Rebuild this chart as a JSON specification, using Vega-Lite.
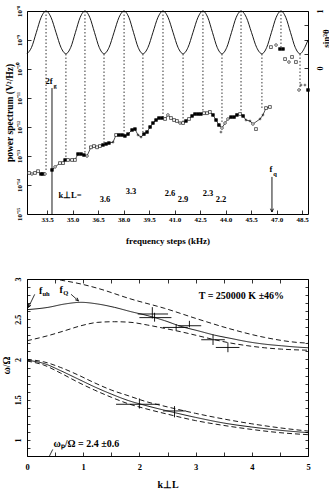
{
 "$schema": "https://vega.github.io/schema/vega-lite/v6.json",
 "padding": {"left": 0, "top": 4, "right": 0, "bottom": 0},
 "background": "white",
 "bounds": "flush",
 "spacing": 65,
 "config": {
  "view": {"stroke": "black", "strokeWidth": 1},
  "axis": {"domain": false, "grid": false, "tickColor": "black", "tickSize": 4, "offset": -4, "tickWidth": 0.8,
   "labelFont": "Liberation Serif", "labelFontWeight": "bold", "labelFontSize": 8, "labelColor": "black", "labelFlush": false,
   "titleFont": "Liberation Serif", "titleFontWeight": "bold", "titleFontSize": 10, "titleColor": "black"},
  "text": {"font": "Liberation Serif", "fontWeight": "bold", "fontSize": 9, "color": "black"}
 },
 "vconcat": [
  {
   "width": 281, "height": 203,
   "resolve": {"scale": {"y": "independent"}, "axis": {"x": "independent"}},
   "layer": [
    {
     "data": {"values": [
      {"f":33.44,"top":1e-8,"bot":2.8e-14},{"f":34.61,"top":3.3e-10,"bot":7.3e-14},{"f":35.73,"top":1e-8,"bot":1.08e-13},{"f":36.85,"top":3.3e-10,"bot":2.6e-13},{"f":38.03,"top":1e-8,"bot":4.5e-13},{"f":39.14,"top":3.3e-10,"bot":6.7e-13},{"f":40.32,"top":1e-8,"bot":2.2e-12},{"f":41.50,"top":3.3e-10,"bot":1.37e-12},{"f":42.67,"top":1e-8,"bot":3.3e-12},{"f":43.79,"top":3.3e-10,"bot":1.27e-12},{"f":44.91,"top":1e-8,"bot":3.0e-12},{"f":46.14,"top":3.3e-10,"bot":4.5e-12},{"f":47.26,"top":1e-8,"bot":5.7e-10},{"f":48.38,"top":3.3e-10,"bot":1.89e-11}
     ]},
     "mark": {"type": "rule", "strokeDash": [1.5, 2], "strokeWidth": 0.8, "color": "black"},
     "encoding": {
      "x": {"field": "f", "type": "quantitative", "scale": {"domain": [32.32, 48.85], "nice": false, "zero": false},
       "axis": {"orient": "bottom", "values": [33.5,35,36.5,38,39.5,41,42.5,44,45.5,47,48.5], "format": ".1f", "labelFontSize": 7, "labelPadding": 1.5,
        "title": "frequency steps (kHz)", "titleFontSize": 9, "titleY": 33, "titleBaseline": "alphabetic"}},
      "y": {"field": "top", "type": "quantitative", "scale": {"type": "log", "domain": [1e-15, 1e-8], "nice": false},
       "axis": {"orient": "left", "values": [1e-15,1e-14,1e-13,1e-12,1e-11,1e-10,1e-9,1e-8],
        "labelExpr": "['10⁻¹⁵','10⁻¹⁴','10⁻¹³','10⁻¹²','10⁻¹¹','10⁻¹⁰','10⁻⁹','10⁻⁸'][round(log(datum.value)/LN10)+15]",
        "labelAngle": -90, "labelAlign": "center", "labelBaseline": "bottom", "labelPadding": 5, "labelFontSize": 7,
        "title": "power spectrum (V²/Hz)", "titleAngle": 270, "titleX": -22, "titleY": 101.5, "titleAlign": "center", "titleBaseline": "middle", "titleFontSize": 9.5}},
      "y2": {"field": "bot"}
     }
    },
    {
     "data": {"name": "spec", "values": [
      {"f":32.44,"p":2.6e-14,"m":"sq","c":0},{"f":32.61,"p":2.4e-14,"m":"circ","c":0},{"f":32.79,"p":2.6e-14,"m":"sq","c":0},{"f":32.97,"p":3.0e-14,"m":"sq","c":0},{"f":33.14,"p":2.4e-14,"m":"fsq","c":0},{"f":33.26,"p":2.4e-14,"m":"fsq","c":0},{"f":33.38,"p":2.4e-14,"m":"circ","c":0},
      {"f":33.79,"p":3.3e-14,"m":"fsq","c":1},{"f":33.97,"p":4.2e-14,"m":"circ","c":1},{"f":34.26,"p":5.7e-14,"m":"sq","c":1},{"f":34.44,"p":5.7e-14,"m":"sq","c":1},{"f":34.56,"p":7.3e-14,"m":"fsq","c":1},{"f":34.73,"p":7.3e-14,"m":"sq","c":1},{"f":34.97,"p":7.3e-14,"m":"sq","c":1},{"f":35.14,"p":7.3e-14,"m":"sq","c":1},
      {"f":35.32,"p":1.17e-13,"m":"fsq","c":1},{"f":35.50,"p":1.17e-13,"m":"fsq","c":1},{"f":35.67,"p":1.08e-13,"m":"fsq","c":1},{"f":35.85,"p":1.0e-13,"m":"circ","c":1},{"f":36.08,"p":2.0e-13,"m":"sq","c":1},{"f":36.26,"p":2.2e-13,"m":"sq","c":1},{"f":36.44,"p":2.0e-13,"m":"sq","c":1},{"f":36.61,"p":2.2e-13,"m":"sq","c":1},
      {"f":36.79,"p":2.4e-13,"m":"fsq","c":1},{"f":36.97,"p":2.6e-13,"m":"fsq","c":1},{"f":37.14,"p":2.8e-13,"m":"fsq","c":1},{"f":37.38,"p":3.0e-13,"m":"plus","c":1},{"f":37.56,"p":5.3e-13,"m":"sq","c":1},{"f":37.73,"p":5.3e-13,"m":"fsq","c":1},{"f":37.91,"p":5.3e-13,"m":"fsq","c":1},{"f":38.08,"p":4.9e-13,"m":"fsq","c":1},
      {"f":38.26,"p":5.7e-13,"m":"fsq","c":1},{"f":38.50,"p":7.9e-13,"m":"fsq","c":1},{"f":38.67,"p":8.5e-13,"m":"fsq","c":1},{"f":38.85,"p":5.3e-13,"m":"plus","c":1},{"f":39.03,"p":4.5e-13,"m":"plus","c":1},{"f":39.20,"p":5.7e-13,"m":"fsq","c":1},{"f":39.38,"p":6.7e-13,"m":"fsq","c":1},{"f":39.56,"p":1.0e-12,"m":"fsq","c":1},
      {"f":39.73,"p":1.37e-12,"m":"fsq","c":1},{"f":39.91,"p":1.74e-12,"m":"fsq","c":1},{"f":40.08,"p":2.04e-12,"m":"fsq","c":1},{"f":40.26,"p":2.04e-12,"m":"fsq","c":1},{"f":40.44,"p":1.89e-12,"m":"sq","c":1},{"f":40.61,"p":2.6e-12,"m":"circ","c":1},{"f":40.79,"p":2.04e-12,"m":"sq","c":1},{"f":40.97,"p":1.74e-12,"m":"sq","c":1},
      {"f":41.14,"p":1.61e-12,"m":"sq","c":1},{"f":41.32,"p":1.37e-12,"m":"circ","c":1},{"f":41.50,"p":1.37e-12,"m":"sq","c":1},{"f":41.67,"p":1.61e-12,"m":"fsq","c":1},{"f":41.85,"p":1.89e-12,"m":"sq","c":1},{"f":42.03,"p":2.4e-12,"m":"fsq","c":1},{"f":42.20,"p":2.8e-12,"m":"fsq","c":1},{"f":42.38,"p":2.8e-12,"m":"fsq","c":1},
      {"f":42.55,"p":2.8e-12,"m":"fsq","c":1},{"f":42.73,"p":3.0e-12,"m":"sq","c":1},{"f":42.91,"p":3.0e-12,"m":"sq","c":1},{"f":43.08,"p":3.3e-12,"m":"sq","c":1},{"f":43.26,"p":2.6e-12,"m":"fsq","c":1},{"f":43.44,"p":1.74e-12,"m":"fsq","c":1},{"f":43.61,"p":1.17e-12,"m":"fsq","c":1},{"f":43.79,"p":9.2e-13,"m":"circ","c":1},
      {"f":43.97,"p":1.37e-12,"m":"circ","c":1},{"f":44.14,"p":1.89e-12,"m":"circ","c":1},{"f":44.32,"p":2.2e-12,"m":"fsq","c":1},{"f":44.50,"p":2.2e-12,"m":"fsq","c":1},{"f":44.67,"p":2.6e-12,"m":"fsq","c":1},{"f":44.85,"p":2.8e-12,"m":"sq","c":1},{"f":45.03,"p":2.4e-12,"m":"fsq","c":1},{"f":45.20,"p":1.74e-12,"m":"plus","c":1},
      {"f":45.44,"p":1.61e-12,"m":"plus","c":1},{"f":45.61,"p":1.27e-12,"m":"circ","c":1},{"f":46.03,"p":1.89e-12,"m":"plus","c":1},{"f":46.20,"p":2.6e-12,"m":"plus","c":1},{"f":46.38,"p":4.5e-12,"m":"sq","c":1},{"f":46.61,"p":4.9e-12,"m":"sq","c":1},
      {"f":43.73,"p":6.7e-13,"m":"plus","c":0},{"f":45.79,"p":8.5e-13,"m":"sq","c":0},
      {"f":46.67,"p":5.7e-10,"m":"sq","c":0},{"f":46.97,"p":6.7e-10,"m":"circ","c":0},{"f":47.20,"p":4.9e-10,"m":"fsq","c":0},{"f":47.38,"p":4.9e-10,"m":"fsq","c":0},{"f":47.50,"p":2.2e-10,"m":"sq","c":0},{"f":47.73,"p":1.74e-10,"m":"circ","c":0},{"f":47.91,"p":2.6e-10,"m":"sq","c":0},{"f":48.14,"p":1.74e-10,"m":"sq","c":0},
      {"f":48.32,"p":1.89e-11,"m":"circ","c":0},{"f":48.44,"p":2.8e-11,"m":"plus","c":0},{"f":48.67,"p":2.8e-11,"m":"plus","c":0},{"f":48.85,"p":1.89e-11,"m":"fsq","c":0}
     ]},
     "transform": [{"filter": "datum.c == 1"}],
     "mark": {"type": "line", "color": "black", "strokeWidth": 0.7},
     "encoding": {
      "x": {"field": "f", "type": "quantitative", "scale": {"domain": [32.32, 48.85], "nice": false, "zero": false}, "axis": null},
      "y": {"field": "p", "type": "quantitative", "scale": {"type": "log", "domain": [1e-15, 1e-8], "nice": false}, "axis": null}
     }
    },
    {
     "data": {"name": "spec"},
     "mark": {"type": "point", "stroke": "black", "strokeWidth": 0.6, "opacity": 1},
     "encoding": {
      "x": {"field": "f", "type": "quantitative", "scale": {"domain": [32.32, 48.85], "nice": false, "zero": false}, "axis": null},
      "y": {"field": "p", "type": "quantitative", "scale": {"type": "log", "domain": [1e-15, 1e-8], "nice": false}, "axis": null},
      "shape": {"field": "m", "type": "nominal", "scale": {"domain": ["sq","fsq","plus","circ"], "range": ["square","square","M-1,0H1M0,-1V1","circle"]}, "legend": null},
      "fill": {"field": "m", "type": "nominal", "scale": {"domain": ["sq","fsq","plus","circ"], "range": ["white","black","transparent","white"]}, "legend": null},
      "size": {"field": "m", "type": "nominal", "scale": {"domain": ["sq","fsq","plus","circ"], "range": [8,7,16,7]}, "legend": null}
     }
    },
    {
     "data": {"values": [{"f":33.79,"top":2.2e-11,"bot":1e-15},{"f":46.73,"top":1.9e-14,"bot":1.17e-15}]},
     "mark": {"type": "rule", "color": "black", "strokeWidth": 0.9},
     "encoding": {
      "x": {"field": "f", "type": "quantitative", "scale": {"domain": [32.32, 48.85], "nice": false, "zero": false}, "axis": null},
      "y": {"field": "top", "type": "quantitative", "scale": {"type": "log", "domain": [1e-15, 1e-8], "nice": false}, "axis": null},
      "y2": {"field": "bot"}
     }
    },
    {
     "data": {"values": [{"f":46.73,"p":1.17e-15}]},
     "mark": {"type": "point", "shape": "M-1,-2.2L0,0L1,-2.2", "size": 9, "stroke": "black", "strokeWidth": 0.9, "filled": false, "opacity": 1},
     "encoding": {
      "x": {"field": "f", "type": "quantitative", "scale": {"domain": [32.32, 48.85], "nice": false, "zero": false}, "axis": null},
      "y": {"field": "p", "type": "quantitative", "scale": {"type": "log", "domain": [1e-15, 1e-8], "nice": false}, "axis": null}
     }
    },
    {
     "data": {"values": [
      {"f":33.61,"p":3.86e-11,"t":"2f"},{"f":46.67,"p":3.56e-14,"t":"f"},{"f":34.85,"p":4.6e-15,"t":"k⊥L="},
      {"f":36.91,"p":3.3e-15,"t":"3.6"},{"f":38.44,"p":6.2e-15,"t":"3.3"},{"f":40.73,"p":5.3e-15,"t":"2.6"},{"f":41.50,"p":3.3e-15,"t":"2.9"},{"f":42.97,"p":5.3e-15,"t":"2.3"},{"f":43.73,"p":3.3e-15,"t":"2.2"}
     ]},
     "mark": {"type": "text", "fontSize": 8.5, "baseline": "middle"},
     "encoding": {
      "x": {"field": "f", "type": "quantitative", "scale": {"domain": [32.32, 48.85], "nice": false, "zero": false}, "axis": null},
      "y": {"field": "p", "type": "quantitative", "scale": {"type": "log", "domain": [1e-15, 1e-8], "nice": false}, "axis": null},
      "text": {"field": "t"}
     }
    },
    {
     "data": {"values": [{"f":33.97,"p":2.6e-11,"t":"g"},{"f":46.91,"p":2.4e-14,"t":"q"}]},
     "mark": {"type": "text", "fontSize": 6.5, "baseline": "middle"},
     "encoding": {
      "x": {"field": "f", "type": "quantitative", "scale": {"domain": [32.32, 48.85], "nice": false, "zero": false}, "axis": null},
      "y": {"field": "p", "type": "quantitative", "scale": {"type": "log", "domain": [1e-15, 1e-8], "nice": false}, "axis": null},
      "text": {"field": "t"}
     }
    },
    {
     "data": {"values": [
      {"f":32.32,"s":0.25},{"f":32.585,"s":0.36},{"f":32.87,"s":0.625},{"f":33.155,"s":0.89},{"f":33.44,"s":1},{"f":33.73,"s":0.89},{"f":34.025,"s":0.625},{"f":34.32,"s":0.36},
      {"f":34.61,"s":0.25},{"f":34.89,"s":0.36},{"f":35.17,"s":0.625},{"f":35.45,"s":0.89},{"f":35.73,"s":1},{"f":36.01,"s":0.89},{"f":36.29,"s":0.625},{"f":36.57,"s":0.36},
      {"f":36.85,"s":0.25},{"f":37.145,"s":0.36},{"f":37.44,"s":0.625},{"f":37.735,"s":0.89},{"f":38.03,"s":1},{"f":38.31,"s":0.89},{"f":38.585,"s":0.625},{"f":38.86,"s":0.36},
      {"f":39.14,"s":0.25},{"f":39.435,"s":0.36},{"f":39.73,"s":0.625},{"f":40.025,"s":0.89},{"f":40.32,"s":1},{"f":40.615,"s":0.89},{"f":40.91,"s":0.625},{"f":41.205,"s":0.36},
      {"f":41.50,"s":0.25},{"f":41.79,"s":0.36},{"f":42.085,"s":0.625},{"f":42.38,"s":0.89},{"f":42.67,"s":1},{"f":42.95,"s":0.89},{"f":43.23,"s":0.625},{"f":43.51,"s":0.36},
      {"f":43.79,"s":0.25},{"f":44.07,"s":0.36},{"f":44.35,"s":0.625},{"f":44.63,"s":0.89},{"f":44.91,"s":1},{"f":45.22,"s":0.89},{"f":45.525,"s":0.625},{"f":45.83,"s":0.36},
      {"f":46.14,"s":0.25},{"f":46.42,"s":0.36},{"f":46.70,"s":0.625},{"f":46.98,"s":0.89},{"f":47.26,"s":1},{"f":47.54,"s":0.89},{"f":47.82,"s":0.625},{"f":48.10,"s":0.36},
      {"f":48.38,"s":0.25},{"f":48.66,"s":0.36},{"f":48.85,"s":0.49}
     ]},
     "mark": {"type": "line", "color": "black", "strokeWidth": 0.9, "interpolate": "monotone"},
     "encoding": {
      "x": {"field": "f", "type": "quantitative", "scale": {"domain": [32.32, 48.85], "nice": false, "zero": false}, "axis": null},
      "y": {"field": "s", "type": "quantitative", "scale": {"domain": [-2.5614, 1], "nice": false, "zero": false},
       "axis": {"orient": "right", "values": [0, 0.25, 0.5, 0.75, 1],
        "labelExpr": "datum.value == 1 ? '1' : datum.value == 0 ? '0' : ''",
        "labelAngle": -90, "labelAlign": "center", "labelBaseline": "top", "labelPadding": 8, "labelFontSize": 8,
        "title": "sin²θ", "titleAngle": 270, "titleX": 21, "titleY": 27, "titleAlign": "center", "titleBaseline": "middle", "titleFontSize": 9}}
     }
    }
   ]
  },
  {
   "width": 281, "height": 177,
   "resolve": {"axis": {"x": "independent", "y": "independent"}},
   "layer": [
    {
     "data": {"name": "curves", "values": [
      {"k":0,"w":2.619,"id":"us","d":"solid"},{"k":0.37,"w":2.647,"id":"us","d":"solid"},{"k":0.67,"w":2.689,"id":"us","d":"solid"},{"k":0.96,"w":2.71,"id":"us","d":"solid"},{"k":1.26,"w":2.689,"id":"us","d":"solid"},{"k":1.56,"w":2.647,"id":"us","d":"solid"},{"k":1.85,"w":2.594,"id":"us","d":"solid"},{"k":2.15,"w":2.544,"id":"us","d":"solid"},{"k":2.45,"w":2.482,"id":"us","d":"solid"},{"k":2.74,"w":2.411,"id":"us","d":"solid"},{"k":3.04,"w":2.357,"id":"us","d":"solid"},{"k":3.34,"w":2.302,"id":"us","d":"solid"},{"k":3.63,"w":2.261,"id":"us","d":"solid"},{"k":3.93,"w":2.22,"id":"us","d":"solid"},{"k":4.23,"w":2.19,"id":"us","d":"solid"},{"k":4.53,"w":2.17,"id":"us","d":"solid"},{"k":4.82,"w":2.153,"id":"us","d":"solid"},{"k":5,"w":2.146,"id":"us","d":"solid"},
      {"k":0.45,"w":3.0,"id":"uh","d":"dash"},{"k":0.61,"w":2.984,"id":"uh","d":"dash"},{"k":0.96,"w":2.938,"id":"uh","d":"dash"},{"k":1.26,"w":2.884,"id":"uh","d":"dash"},{"k":1.85,"w":2.751,"id":"uh","d":"dash"},{"k":2.45,"w":2.635,"id":"uh","d":"dash"},{"k":3.04,"w":2.502,"id":"uh","d":"dash"},{"k":3.63,"w":2.377,"id":"uh","d":"dash"},{"k":4.23,"w":2.274,"id":"uh","d":"dash"},{"k":4.82,"w":2.211,"id":"uh","d":"dash"},{"k":5,"w":2.203,"id":"uh","d":"dash"},
      {"k":0,"w":2.233,"id":"ul","d":"dash"},{"k":0.37,"w":2.295,"id":"ul","d":"dash"},{"k":0.67,"w":2.357,"id":"ul","d":"dash"},{"k":0.96,"w":2.419,"id":"ul","d":"dash"},{"k":1.26,"w":2.461,"id":"ul","d":"dash"},{"k":1.56,"w":2.469,"id":"ul","d":"dash"},{"k":1.85,"w":2.461,"id":"ul","d":"dash"},{"k":2.15,"w":2.427,"id":"ul","d":"dash"},{"k":2.45,"w":2.386,"id":"ul","d":"dash"},{"k":2.74,"w":2.344,"id":"ul","d":"dash"},{"k":3.04,"w":2.295,"id":"ul","d":"dash"},{"k":3.34,"w":2.245,"id":"ul","d":"dash"},{"k":3.63,"w":2.203,"id":"ul","d":"dash"},{"k":3.93,"w":2.17,"id":"ul","d":"dash"},{"k":4.23,"w":2.145,"id":"ul","d":"dash"},{"k":4.53,"w":2.128,"id":"ul","d":"dash"},{"k":5,"w":2.115,"id":"ul","d":"dash"},
      {"k":0,"w":1.99,"id":"ls","d":"solid"},{"k":0.3,"w":1.95,"id":"ls","d":"solid"},{"k":0.6,"w":1.86,"id":"ls","d":"solid"},{"k":0.9,"w":1.76,"id":"ls","d":"solid"},{"k":1.2,"w":1.66,"id":"ls","d":"solid"},{"k":1.5,"w":1.57,"id":"ls","d":"solid"},{"k":1.8,"w":1.49,"id":"ls","d":"solid"},{"k":2.1,"w":1.43,"id":"ls","d":"solid"},{"k":2.5,"w":1.36,"id":"ls","d":"solid"},{"k":3.0,"w":1.28,"id":"ls","d":"solid"},{"k":3.5,"w":1.21,"id":"ls","d":"solid"},{"k":4.0,"w":1.16,"id":"ls","d":"solid"},{"k":4.5,"w":1.12,"id":"ls","d":"solid"},{"k":5.0,"w":1.09,"id":"ls","d":"solid"},
      {"k":0,"w":2.0,"id":"lh","d":"dash"},{"k":0.3,"w":1.97,"id":"lh","d":"dash"},{"k":0.6,"w":1.9,"id":"lh","d":"dash"},{"k":0.9,"w":1.81,"id":"lh","d":"dash"},{"k":1.2,"w":1.71,"id":"lh","d":"dash"},{"k":1.5,"w":1.62,"id":"lh","d":"dash"},{"k":1.8,"w":1.55,"id":"lh","d":"dash"},{"k":2.1,"w":1.48,"id":"lh","d":"dash"},{"k":2.5,"w":1.41,"id":"lh","d":"dash"},{"k":3.0,"w":1.33,"id":"lh","d":"dash"},{"k":3.5,"w":1.26,"id":"lh","d":"dash"},{"k":4.0,"w":1.2,"id":"lh","d":"dash"},{"k":4.5,"w":1.15,"id":"lh","d":"dash"},{"k":5.0,"w":1.11,"id":"lh","d":"dash"},
      {"k":0,"w":1.98,"id":"ll","d":"dash"},{"k":0.3,"w":1.93,"id":"ll","d":"dash"},{"k":0.6,"w":1.83,"id":"ll","d":"dash"},{"k":0.9,"w":1.72,"id":"ll","d":"dash"},{"k":1.2,"w":1.62,"id":"ll","d":"dash"},{"k":1.5,"w":1.53,"id":"ll","d":"dash"},{"k":1.8,"w":1.45,"id":"ll","d":"dash"},{"k":2.1,"w":1.39,"id":"ll","d":"dash"},{"k":2.5,"w":1.32,"id":"ll","d":"dash"},{"k":3.0,"w":1.24,"id":"ll","d":"dash"},{"k":3.5,"w":1.18,"id":"ll","d":"dash"},{"k":4.0,"w":1.13,"id":"ll","d":"dash"},{"k":4.5,"w":1.09,"id":"ll","d":"dash"},{"k":5.0,"w":1.065,"id":"ll","d":"dash"}
     ]},
     "mark": {"type": "line", "color": "black", "strokeWidth": 0.9, "interpolate": "monotone", "clip": true},
     "encoding": {
      "x": {"field": "k", "type": "quantitative", "scale": {"domain": [0, 5], "nice": false, "zero": false},
       "axis": {"orient": "bottom", "values": [0,0.5,1,1.5,2,2.5,3,3.5,4,4.5,5], "labelExpr": "datum.value % 1 == 0 ? format(datum.value, 'd') : ''", "labelPadding": 6, "labelFontSize": 8.5,
        "title": "k⊥L", "titleFontSize": 10, "titleY": 35, "titleBaseline": "alphabetic"}},
      "y": {"field": "w", "type": "quantitative", "scale": {"domain": [0.8, 3], "nice": false, "zero": false},
       "axis": {"orient": "left", "values": [0.8,0.9,1,1.1,1.2,1.3,1.4,1.5,1.6,1.7,1.8,1.9,2,2.1,2.2,2.3,2.4,2.5,2.6,2.7,2.8,2.9,3],
        "labelExpr": "indexof([1,1.5,2,2.5,3], datum.value) >= 0 ? format(datum.value, '') : ''", "tickSize": 3, "offset": -3,
        "labelAngle": -90, "labelAlign": "center", "labelBaseline": "bottom", "labelPadding": 5, "labelFontSize": 8,
        "title": "ω/Ω", "titleAngle": 270, "titleX": -24, "titleY": 86, "titleAlign": "center", "titleBaseline": "middle", "titleFontSize": 10}},
      "detail": {"field": "id", "type": "nominal"},
      "strokeDash": {"field": "d", "type": "nominal", "scale": {"domain": ["solid","dash"], "range": [[1,0],[5,3]]}, "legend": null}
     }
    },
    {
     "data": {"name": "curves"},
     "mark": {"type": "point", "opacity": 0},
     "encoding": {
      "x": {"field": "k", "type": "quantitative", "scale": {"domain": [0, 5], "nice": false, "zero": false},
       "axis": {"orient": "top", "values": [0,0.5,1,1.5,2,2.5,3,3.5,4,4.5,5], "labels": false, "title": null}},
      "y": {"field": "w", "type": "quantitative", "scale": {"domain": [0.8, 3], "nice": false, "zero": false},
       "axis": {"orient": "right", "values": [0.8,0.9,1,1.1,1.2,1.3,1.4,1.5,1.6,1.7,1.8,1.9,2,2.1,2.2,2.3,2.4,2.5,2.6,2.7,2.8,2.9,3], "tickSize": 3, "offset": -3, "labels": false, "title": null}}
     }
    },
    {
     "data": {"name": "errs", "values": [
      {"k":2.23,"w":2.565,"klo":1.97,"khi":2.51,"wlo":2.51,"whi":2.65},
      {"k":2.27,"w":2.52,"klo":2.0,"khi":2.57,"wlo":2.47,"whi":2.58},
      {"k":2.654,"w":2.398,"klo":2.42,"khi":2.86,"wlo":2.36,"whi":2.44},
      {"k":2.89,"w":2.419,"klo":2.69,"khi":3.1,"wlo":2.40,"whi":2.48},
      {"k":3.31,"w":2.245,"klo":3.1,"khi":3.52,"wlo":2.18,"whi":2.31},
      {"k":3.575,"w":2.149,"klo":3.36,"khi":3.78,"wlo":2.09,"whi":2.21},
      {"k":2.0,"w":1.443,"klo":1.585,"khi":2.36,"wlo":1.39,"whi":1.515},
      {"k":2.625,"w":1.36,"klo":2.42,"khi":2.83,"wlo":1.28,"whi":1.42}
     ]},
     "mark": {"type": "rule", "color": "black", "strokeWidth": 0.9},
     "encoding": {
      "x": {"field": "klo", "type": "quantitative", "scale": {"domain": [0, 5], "nice": false, "zero": false}, "axis": null},
      "x2": {"field": "khi"},
      "y": {"field": "w", "type": "quantitative", "scale": {"domain": [0.8, 3], "nice": false, "zero": false}, "axis": null}
     }
    },
    {
     "data": {"name": "errs"},
     "mark": {"type": "rule", "color": "black", "strokeWidth": 0.9},
     "encoding": {
      "x": {"field": "k", "type": "quantitative", "scale": {"domain": [0, 5], "nice": false, "zero": false}, "axis": null},
      "y": {"field": "wlo", "type": "quantitative", "scale": {"domain": [0.8, 3], "nice": false, "zero": false}, "axis": null},
      "y2": {"field": "whi"}
     }
    },
    {
     "data": {"values": [
      {"k":0.137,"w":2.809,"k2":0.025,"w2":2.647},
      {"k":0.784,"w":2.81,"k2":0.916,"w2":2.728},
      {"k":0.458,"w":0.882,"k2":0.40,"w2":0.80}
     ]},
     "mark": {"type": "rule", "color": "black", "strokeWidth": 0.8},
     "encoding": {
      "x": {"field": "k", "type": "quantitative", "scale": {"domain": [0, 5], "nice": false, "zero": false}, "axis": null},
      "y": {"field": "w", "type": "quantitative", "scale": {"domain": [0.8, 3], "nice": false, "zero": false}, "axis": null},
      "x2": {"field": "k2"},
      "y2": {"field": "w2"}
     }
    },
    {
     "data": {"values": [{"k":0.025,"w":2.647}]},
     "mark": {"type": "point", "shape": "M-1,-2.2L0,0L1,-2.2", "size": 8, "angle": 26, "stroke": "black", "strokeWidth": 0.8, "filled": false, "opacity": 1},
     "encoding": {
      "x": {"field": "k", "type": "quantitative", "scale": {"domain": [0, 5], "nice": false, "zero": false}, "axis": null},
      "y": {"field": "w", "type": "quantitative", "scale": {"domain": [0.8, 3], "nice": false, "zero": false}, "axis": null}
     }
    },
    {
     "data": {"values": [{"k":0.916,"w":2.728}]},
     "mark": {"type": "point", "shape": "M-1,-2.2L0,0L1,-2.2", "size": 8, "angle": -48, "stroke": "black", "strokeWidth": 0.8, "filled": false, "opacity": 1},
     "encoding": {
      "x": {"field": "k", "type": "quantitative", "scale": {"domain": [0, 5], "nice": false, "zero": false}, "axis": null},
      "y": {"field": "w", "type": "quantitative", "scale": {"domain": [0.8, 3], "nice": false, "zero": false}, "axis": null}
     }
    },
    {
     "data": {"values": [
      {"k":3.815,"w":2.793,"t":"T = 250000 K ±46%"},
      {"k":1.055,"w":0.944,"t":"ωₚ/Ω =  2.4 ±0.6"},
      {"k":0.244,"w":2.846,"t":"f"},
      {"k":0.609,"w":2.859,"t":"f"}
     ]},
     "mark": {"type": "text", "fontSize": 10, "baseline": "middle"},
     "encoding": {
      "x": {"field": "k", "type": "quantitative", "scale": {"domain": [0, 5], "nice": false, "zero": false}, "axis": null},
      "y": {"field": "w", "type": "quantitative", "scale": {"domain": [0.8, 3], "nice": false, "zero": false}, "axis": null},
      "text": {"field": "t"}
     }
    },
    {
     "data": {"values": [{"k":0.34,"w":2.81,"t":"uh"},{"k":0.69,"w":2.82,"t":"Q"}]},
     "mark": {"type": "text", "fontSize": 6.5, "baseline": "middle"},
     "encoding": {
      "x": {"field": "k", "type": "quantitative", "scale": {"domain": [0, 5], "nice": false, "zero": false}, "axis": null},
      "y": {"field": "w", "type": "quantitative", "scale": {"domain": [0.8, 3], "nice": false, "zero": false}, "axis": null},
      "text": {"field": "t"}
     }
    }
   ]
  }
 ]
}
